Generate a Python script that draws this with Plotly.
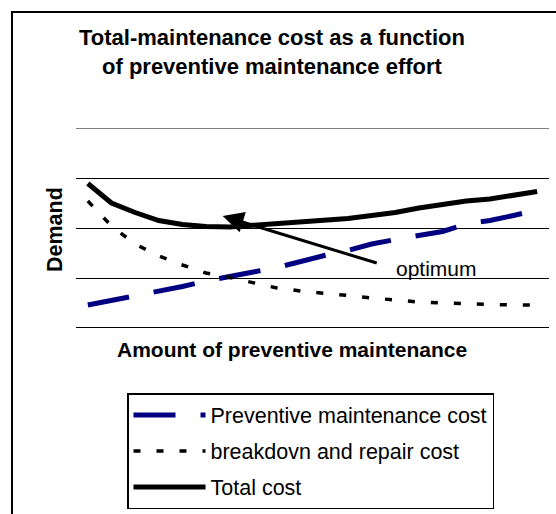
import plotly.graph_objects as go

# Effort levels along the x axis (20 evenly spaced steps, no labels shown)
effort = list(range(20))

# Cost curves (arbitrary demand units)
preventive_cost = [0.46, 0.55, 0.63, 0.73, 0.83, 0.94, 1.04, 1.12, 1.21, 1.34,
                   1.45, 1.55, 1.68, 1.77, 1.84, 1.93, 2.08, 2.15, 2.25, 2.36]
breakdown_cost = [2.54, 2.04, 1.68, 1.44, 1.26, 1.10, 1.01, 0.90, 0.80, 0.74,
                  0.70, 0.65, 0.60, 0.56, 0.52, 0.50, 0.48, 0.47, 0.46, 0.46]
total_cost = [2.89, 2.50, 2.31, 2.15, 2.07, 2.03, 2.02, 2.05, 2.08, 2.12,
              2.15, 2.19, 2.25, 2.31, 2.40, 2.47, 2.54, 2.58, 2.65, 2.73]

series_names = ["Preventive maintenance cost", "breakdovn and repair cost", "Total cost"]

# Optimum pointer: arrow from the label towards the minimum of the total curve
optimum_tip = (5.70, 2.24)
optimum_tail = (12.28, 1.29)
optimum_label_pos = (14.76, 1.20)

FONT = "Arial, Liberation Sans, sans-serif"

fig = go.Figure()
fig.add_trace(go.Scatter(
    x=effort, y=preventive_cost, mode="lines", name=series_names[0],
    line=dict(color="#000080", width=5, dash="42px,25px"), legendgroup="a"))
fig.add_trace(go.Scatter(
    x=effort, y=breakdown_cost, mode="lines", name=series_names[1],
    line=dict(color="#000000", width=3.5, dash="7px,16px"), legendgroup="b"))
fig.add_trace(go.Scatter(
    x=effort, y=total_cost, mode="lines", name=series_names[2],
    line=dict(color="#000000", width=5), legendgroup="c"))

W, H = 556, 514
L, R, T, B = 76, 7, 128, 186
pw, ph = W - L - R, H - T - B


def px_x(p):
    return (p - L) / pw


def px_y(p):
    return (H - B - p) / ph


fig.update_layout(
    width=W, height=H,
    margin=dict(l=L, r=R, t=T, b=B, autoexpand=False),
    paper_bgcolor="white", plot_bgcolor="white",
    font=dict(family=FONT, color="black"),
    showlegend=True,
    legend=dict(
        x=px_x(127), y=px_y(393), xanchor="left", yanchor="top",
        bordercolor="black", borderwidth=1.5, bgcolor="white",
        font=dict(size=21.5, family=FONT), itemwidth=72,
        tracegroupgap=5,
    ),
    xaxis=dict(range=[-0.5, 19.5], showgrid=False, zeroline=False,
               showticklabels=False, ticks="", showline=False),
    yaxis=dict(range=[0, 4], dtick=1, showgrid=True, gridcolor="black",
               gridwidth=1, zeroline=False, showticklabels=False, ticks="",
               showline=False),
    shapes=[
        # top gridline at the upper end of the value range
        dict(type="line", xref="paper", yref="y", x0=0, x1=1, y0=4, y1=4,
             line=dict(color="black", width=1)),
        # bottom axis line
        dict(type="line", xref="paper", yref="y", x0=0, x1=1, y0=0, y1=0,
             line=dict(color="black", width=2)),
        # chart frame
        dict(type="rect", xref="paper", yref="paper",
             x0=px_x(12), x1=px_x(562), y0=px_y(12), y1=px_y(520),
             line=dict(color="black", width=2), layer="below"),
    ],
    annotations=[
        dict(text="<b>Total-maintenance cost as a function<br>of preventive maintenance effort</b>",
             xref="paper", yref="paper", x=px_x(272), y=px_y(52),
             xanchor="center", yanchor="middle", showarrow=False,
             font=dict(size=22, family=FONT)),
        dict(text="<b>Amount of preventive maintenance</b>",
             xref="paper", yref="paper", x=px_x(292), y=px_y(349),
             xanchor="center", yanchor="middle", showarrow=False,
             font=dict(size=21, family=FONT)),
        dict(text="<b>Demand</b>", textangle=-90,
             xref="paper", yref="paper", x=px_x(55), y=px_y(230),
             xanchor="center", yanchor="middle", showarrow=False,
             font=dict(size=21.5, family=FONT)),
        dict(text="", x=optimum_tip[0], y=optimum_tip[1], xref="x", yref="y",
             ax=optimum_tail[0], ay=optimum_tail[1], axref="x", ayref="y",
             showarrow=True, arrowhead=2, arrowsize=1.4, arrowwidth=3,
             arrowcolor="black"),
        dict(text="optimum", x=optimum_label_pos[0], y=optimum_label_pos[1],
             xref="x", yref="y", showarrow=False, xanchor="center",
             yanchor="middle", font=dict(size=21, family=FONT)),
    ],
)

fig.write_html("out.html")
